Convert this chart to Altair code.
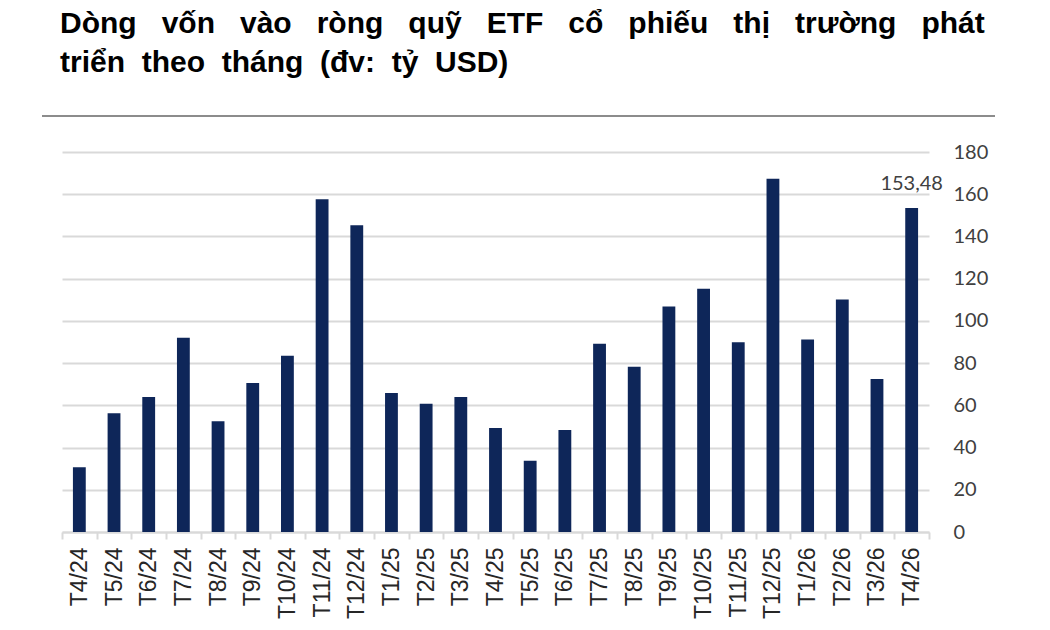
import altair as alt
import pandas as pd

# monthly net inflows into EM equity ETFs (bn USD)
months = ['T4/24', 'T5/24', 'T6/24', 'T7/24', 'T8/24', 'T9/24', 'T10/24', 'T11/24', 'T12/24',
          'T1/25', 'T2/25', 'T3/25', 'T4/25', 'T5/25', 'T6/25', 'T7/25', 'T8/25', 'T9/25',
          'T10/25', 'T11/25', 'T12/25', 'T1/26', 'T2/26', 'T3/26', 'T4/26']
flows = [30.7, 56.3, 64.0, 92.0, 52.5, 70.6, 83.5, 157.6, 145.3,
         65.8, 60.7, 64.0, 49.3, 33.7, 48.3, 89.2, 78.3, 106.8,
         115.2, 89.9, 167.3, 91.2, 110.1, 72.5, 153.48]
labels = [''] * 24 + ['153,48']
y_ticks = [0, 20, 40, 60, 80, 100, 120, 140, 160, 180]

title_words = [['Dòng', 'vốn', 'vào', 'ròng', 'quỹ', 'ETF', 'cổ', 'phiếu', 'thị', 'trường', 'phát'],
               ['triển', 'theo', 'tháng', '(đv:', 'tỷ', 'USD)']]
# the original title is justified; widen the gaps with no-break spaces
title_lines = ['\u00a0\u00a0\u00a0'.join(title_words[0]),
               '\u00a0\u00a0'.join(title_words[1])]

df = pd.DataFrame({'month': months, 'value': flows, 'label': labels})

W, H = 867, 380
navy = '#0e2659'

base = alt.Chart(df).encode(
    x=alt.X('month:N', sort=months, title=None,
            scale=alt.Scale(paddingInner=0, paddingOuter=0),
            axis=alt.Axis(labelAngle=270, labelFont='Liberation Sans', labelFontSize=23,
                          labelColor='#262626', labelPadding=8, tickBand='extent',
                          tickSize=7, tickColor='#d9d9d9', tickWidth=2,
                          domainColor='#d9d9d9', domainWidth=2, grid=False)),
)

bars = base.mark_bar(color=navy, width=alt.RelativeBandSize(0.37)).encode(
    y=alt.Y('value:Q', title=None,
            scale=alt.Scale(domain=[0, 180], nice=False),
            axis=alt.Axis(orient='right', values=y_ticks, labelFont='Lato', labelFontSize=20,
                          labelColor='#404040', labelPadding=0, tickSize=24, tickOpacity=0,
                          domain=False, gridColor='#d9d9d9', gridWidth=2))
)

text = base.mark_text(font='Lato', fontSize=20, color='#404040', baseline='bottom', dy=-14).encode(
    y='value:Q',
    text='label:N'
)

# separator line above the plot
sep = alt.Chart(df).mark_rule(color='#8c8c8c', strokeWidth=2).encode(
    x=alt.value(-20), x2=alt.value(933), y=alt.value(-36)
)

chart = (bars + text + sep).properties(
    width=W, height=H,
    autosize=alt.AutoSizeParams(type='none'),
    padding={'left': 54, 'top': 144, 'right': 113, 'bottom': 90},
    title=alt.TitleParams(text=title_lines, anchor='start', frame='group', font='Liberation Sans',
                          fontSize=30, fontWeight='bold', color='#000000',
                          lineHeight=39, offset=37, dx=-2)
).configure_view(strokeWidth=0).configure_axis(grid=True)

chart.save('out.html', embed_options={'renderer': 'svg', 'actions': False})
